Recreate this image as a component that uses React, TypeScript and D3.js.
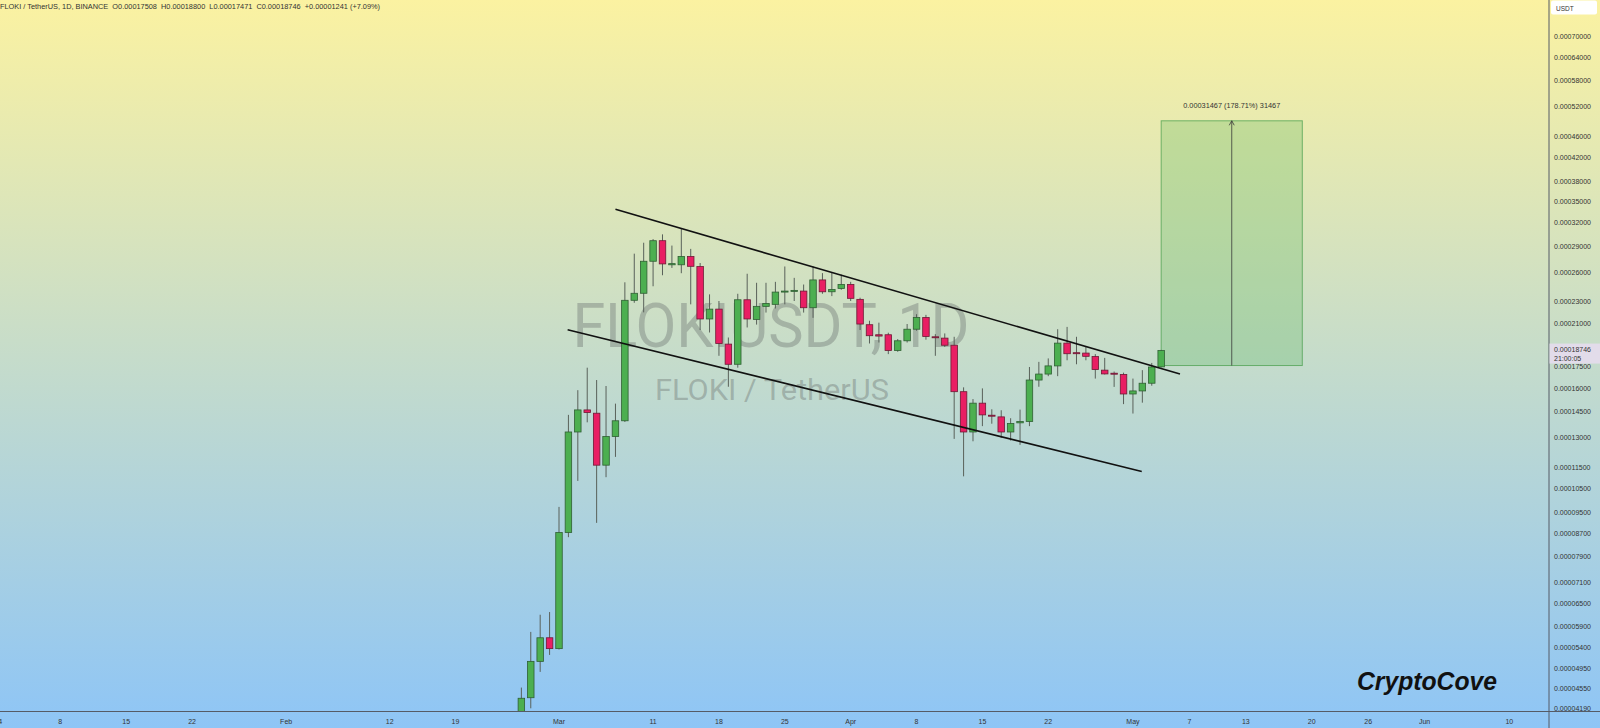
import React from "react";
import * as d3 from "d3";

// ---------- DATA (prices in units of 1e-5 USDT) ----------
const START_DAY = "2024-02-26";
const END_DAY_EXCL = "2024-05-05";
const OPEN = [4.13, 4.38, 5.10, 5.63, 5.38, 8.75, 13.33, 14.62, 14.42, 11.60, 13.08, 13.97, 23.14, 23.83, 27.25, 29.70, 26.85, 26.85, 27.80, 26.65, 21.40, 22.30, 19.26, 17.70, 23.19, 21.36, 22.56, 22.75, 23.95, 24.05, 24.05, 22.43, 25.20, 23.98, 24.32, 24.73, 23.23, 20.89, 20.03, 20.03, 18.75, 19.53, 20.50, 21.53, 19.86, 19.75, 19.17, 15.78, 13.33, 15.04, 14.30, 14.20, 13.33, 13.85, 13.93, 16.57, 16.99, 17.58, 19.34, 18.58, 18.55, 18.28, 17.27, 17.05, 16.96, 15.63, 15.83, 16.35, 17.508];
const HIGH = [4.57, 5.77, 6.20, 6.27, 9.74, 14.32, 15.88, 17.45, 16.57, 16.16, 15.01, 24.95, 28.13, 29.45, 29.90, 30.50, 29.10, 31.23, 28.70, 27.05, 23.72, 23.07, 19.80, 23.78, 25.86, 24.90, 24.90, 25.00, 26.66, 25.42, 24.72, 26.66, 25.93, 25.97, 25.77, 25.00, 23.39, 21.24, 21.07, 20.20, 19.67, 20.95, 21.83, 21.77, 20.08, 20.14, 19.86, 16.07, 15.30, 16.00, 14.66, 14.60, 14.12, 14.64, 17.50, 17.88, 18.14, 20.50, 20.70, 19.86, 19.03, 18.47, 18.18, 17.17, 17.09, 16.67, 17.27, 17.80, 18.80];
const LOW = [4.05, 4.19, 4.88, 5.24, 5.36, 8.58, 10.86, 13.88, 9.11, 11.03, 12.01, 13.90, 22.90, 22.00, 24.54, 25.70, 26.50, 25.92, 22.75, 20.43, 20.22, 18.34, 16.11, 17.45, 20.65, 20.90, 21.98, 22.36, 22.75, 23.07, 21.98, 21.50, 23.78, 23.55, 24.18, 23.07, 20.43, 19.31, 19.39, 18.47, 18.65, 19.39, 20.37, 19.62, 18.34, 19.03, 12.95, 11.07, 12.82, 13.66, 13.80, 13.00, 12.86, 12.63, 13.66, 16.11, 16.84, 16.84, 18.00, 17.70, 18.00, 16.67, 16.96, 16.10, 14.98, 14.40, 15.07, 16.18, 17.471];
const CLOSE = [4.37, 5.10, 5.63, 5.38, 8.75, 13.33, 14.62, 14.46, 11.60, 13.08, 13.97, 23.14, 23.83, 27.25, 29.70, 26.95, 26.98, 27.80, 26.68, 21.40, 22.30, 19.31, 17.70, 23.19, 21.40, 22.56, 22.84, 23.95, 24.05, 24.12, 22.43, 25.20, 23.98, 24.22, 24.73, 23.33, 20.95, 19.95, 19.92, 18.75, 19.53, 20.50, 21.53, 19.89, 19.80, 19.17, 15.78, 13.33, 15.04, 14.32, 14.24, 13.33, 13.81, 13.93, 16.57, 16.99, 17.58, 19.34, 18.50, 18.50, 18.30, 17.31, 17.00, 17.00, 15.63, 15.83, 16.35, 17.50, 18.746];
const UNIT = 1e-5;

const PRICE_TICKS = [0.0007, 0.00064, 0.00058, 0.00052, 0.00046, 0.00042, 0.00038, 0.00035, 0.00032, 0.00029, 0.00026, 0.00023, 0.00021, 0.00019, 0.000175, 0.00016, 0.000145, 0.00013, 0.000115, 0.000105, 0.000095, 0.000087, 0.000079, 0.000071, 0.000065, 0.000059, 0.000054, 0.0000495, 0.0000455, 0.0000419];

const X_TICK_DATES = ["2024-01-01", "2024-01-08", "2024-01-15", "2024-01-22", "2024-02-01", "2024-02-12", "2024-02-19", "2024-03-01", "2024-03-11", "2024-03-18", "2024-03-25", "2024-04-01", "2024-04-08", "2024-04-15", "2024-04-22", "2024-05-01", "2024-05-07", "2024-05-13", "2024-05-20", "2024-05-26", "2024-06-01", "2024-06-10"];
const X_TICK_LABELS = ["2024", "8", "15", "22", "Feb", "12", "19", "Mar", "11", "18", "25", "Apr", "8", "15", "22", "May", "7", "13", "20", "26", "Jun", "10"];

// Trend lines: [date, price]
const UPPER_LINE: [string, number][] = [["2024-03-07T00:00Z", 0.0003387], ["2024-05-06T00:00Z", 0.0001699]];
const LOWER_LINE: [string, number][] = [["2024-03-01T22:00Z", 0.0002046], ["2024-05-01T22:30Z", 0.000113]];

// Target projection box
const TARGET_DATES = ["2024-05-04", "2024-05-19"];
const TARGET_PRICES = [0.00017608, 0.00049075];
const TARGET_LABEL = "0.00031467 (178.71%) 31467";

const HEADER = "FLOKI / TetherUS, 1D, BINANCE  O0.00017508  H0.00018800  L0.00017471  C0.00018746  +0.00001241 (+7.09%)";
const LAST_PRICE = 0.00018746;
const COUNTDOWN = "21:00:05";

// ---------- LAYOUT ----------
const W = 1600;
const H = 728;
const PLOT_RIGHT = 1549;
const PLOT_BOTTOM = 711.5;

const d = (s: string) => new Date(s.length <= 10 ? s + "T00:00:00Z" : s);

export default function App() {
  const x = d3.scaleUtc().domain([d("2024-03-01"), d("2024-06-10")]).range([559, 1509.3]);
  const y = d3.scaleLog().domain([0.0000419, 0.0007]).range([708.3, 36]);

  const days = d3.utcDays(d(START_DAY), d(END_DAY_EXCL));
  const candles = days.map((day, i) => ({
    day,
    o: OPEN[i] * UNIT,
    h: HIGH[i] * UNIT,
    l: LOW[i] * UNIT,
    c: CLOSE[i] * UNIT,
  }));
  const bw = 6.5;

  const line = d3
    .line<[string, number]>()
    .x((p) => x(d(p[0])))
    .y((p) => y(p[1]));

  const tx0 = x(d(TARGET_DATES[0]));
  const tx1 = x(d(TARGET_DATES[1]));
  const ty0 = y(TARGET_PRICES[0]);
  const ty1 = y(TARGET_PRICES[1]);
  const txm = (tx0 + tx1) / 2;

  const lastY = y(LAST_PRICE);
  const axisFont = "'Liberation Sans', Arial, sans-serif";

  return (
    <svg
      width={W}
      height={H}
      style={{ position: "fixed", left: 0, top: 0, display: "block" }}
      xmlns="http://www.w3.org/2000/svg"
    >
      <defs>
        <linearGradient id="bg" x1="0" y1="0" x2="0" y2="1">
          <stop offset="0" stopColor="#fbf2a1" />
          <stop offset="1" stopColor="#8ec5f6" />
        </linearGradient>
        <clipPath id="plot">
          <rect x={0} y={0} width={PLOT_RIGHT} height={PLOT_BOTTOM} />
        </clipPath>
      </defs>
      <rect x={0} y={0} width={W} height={H} fill="url(#bg)" />

      {/* watermark */}
      <g fill="#6f7774" fillOpacity={0.42} fontFamily="Roboto, 'Liberation Sans', sans-serif" textAnchor="middle">
        <text x={771} y={346.7} fontSize={62} textLength={397} lengthAdjust="spacingAndGlyphs">
          FLOKIUSDT, 1D
        </text>
        <text x={772} y={400} fontSize={29} textLength={234} lengthAdjust="spacingAndGlyphs">
          FLOKI / TetherUS
        </text>
      </g>

      <g clipPath="url(#plot)">
        {/* target box */}
        <rect
          x={tx0}
          y={ty1}
          width={tx1 - tx0}
          height={ty0 - ty1}
          fill="rgba(76,175,80,0.25)"
          stroke="rgba(76,160,80,0.75)"
          strokeWidth={1}
        />
        <line x1={txm} x2={txm} y1={ty0} y2={ty1} stroke="#3a3a3a" strokeWidth={0.8} />
        <path
          d={`M${txm - 2.5},${ty1 + 4.5} L${txm},${ty1} L${txm + 2.5},${ty1 + 4.5}`}
          fill="none"
          stroke="#3a3a3a"
          strokeWidth={0.8}
        />
        <text
          x={txm}
          y={ty1 - 13}
          fontSize={7}
          fontFamily={axisFont}
          fill="#333"
          textAnchor="middle"
          textLength={97}
          lengthAdjust="spacingAndGlyphs"
        >
          {TARGET_LABEL}
        </text>

        {/* candles */}
        {candles.map((k, i) => {
          const up = k.c >= k.o;
          const cx = x(k.day);
          const yt = y(Math.max(k.o, k.c));
          const yb = y(Math.min(k.o, k.c));
          return (
            <g key={i}>
              <line x1={cx} x2={cx} y1={y(k.h)} y2={y(k.l)} stroke="#59615a" strokeWidth={1} />
              <rect
                x={cx - bw / 2}
                y={yt}
                width={bw}
                height={Math.max(yb - yt, 1)}
                fill={up ? "#4caf50" : "#e91e63"}
                stroke={up ? "#2f5f33" : "#6e1a35"}
                strokeWidth={0.8}
              />
            </g>
          );
        })}

        {/* channel lines */}
        <path d={line(UPPER_LINE) || ""} stroke="#111" strokeWidth={1.6} fill="none" />
        <path d={line(LOWER_LINE) || ""} stroke="#111" strokeWidth={1.6} fill="none" />
      </g>

      {/* header */}
      <text
        x={0}
        y={9}
        fontSize={7.5}
        fontFamily={axisFont}
        fill="#333"
        textLength={380}
        lengthAdjust="spacingAndGlyphs"
        style={{ whiteSpace: "pre" }}
      >
        {HEADER}
      </text>

      {/* CryptoCove */}
      <text
        x={1427}
        y={690}
        fontSize={25}
        fontWeight="bold"
        fontStyle="italic"
        fontFamily="'Liberation Sans', Arial, sans-serif"
        fill="#111"
        textAnchor="middle"
        textLength={140}
        lengthAdjust="spacingAndGlyphs"
      >
        CryptoCove
      </text>

      {/* axes lines */}
      <line x1={0} x2={W} y1={PLOT_BOTTOM} y2={PLOT_BOTTOM} stroke="#555b66" strokeWidth={1} />
      <line x1={PLOT_RIGHT} x2={PLOT_RIGHT} y1={0} y2={H} stroke="#555b66" strokeWidth={1} />

      {/* price axis */}
      <g fontSize={7} fontFamily={axisFont} fill="#333">
        {PRICE_TICKS.map((v, i) => (
          <text key={i} x={1554} y={y(v)} dominantBaseline="central">
            {v.toFixed(8)}
          </text>
        ))}
      </g>

      {/* last price label */}
      <rect x={PLOT_RIGHT + 0.5} y={lastY - 7} width={W - PLOT_RIGHT} height={20} fill="#e2dcea" />
      <g fontSize={7} fontFamily={axisFont} fill="#333">
        <text x={1554} y={lastY - 1} dominantBaseline="central">
          {LAST_PRICE.toFixed(8)}
        </text>
        <text x={1554} y={lastY + 7.5} dominantBaseline="central">
          {COUNTDOWN}
        </text>
      </g>

      {/* currency box */}
      <rect x={1551} y={0.5} width={46} height={14} rx={2} fill="#ffffff" />
      <text x={1556} y={8} fontSize={6.5} fontFamily={axisFont} fill="#333" dominantBaseline="central">
        USDT
      </text>

      {/* time axis */}
      <g fontSize={7} fontFamily={axisFont} fill="#333" textAnchor="middle">
        {X_TICK_DATES.map((s, i) => (
          <text key={i} x={x(d(s))} y={721} dominantBaseline="central">
            {X_TICK_LABELS[i]}
          </text>
        ))}
      </g>
    </svg>
  );
}
